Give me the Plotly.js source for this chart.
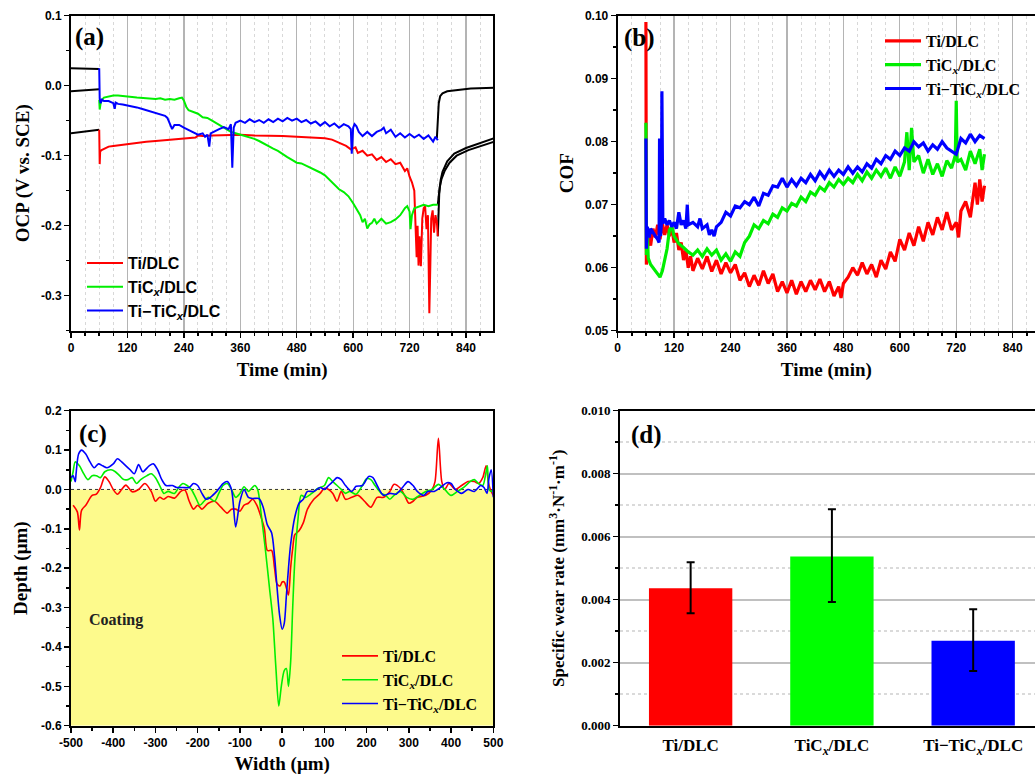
<!DOCTYPE html>
<html>
<head>
<meta charset="utf-8">
<script src="https://cdn.plot.ly/plotly-3.0.1.min.js"></script>
<style>html,body{margin:0;padding:0;background:#fff;}#chart{width:1035px;height:776px;}</style>
</head>
<body>
<div id="chart"></div>
<script>
// ---------------- DATA ----------------
const seriesNames = ["Ti/DLC", "TiC<sub><i>x</i></sub>/DLC", "Ti\u2212TiC<sub><i>x</i></sub>/DLC"];

// (a) OCP vs time
const ocpTiT = [60,61,62,65,70,80,90,100,120,140,160,180,200,220,240,260,265,270,280,300,330,360,390,420,450,480,510,540,555,565,575,585,595,605,610,620,630,640,650,660,670,680,690,700,710,715,720,725,730,732,735,737,739,741,744,747,750,753,756,759,762,764,766,769,772,775,778,780];
const ocpTiV = [-0.063,-0.112,-0.094,-0.092,-0.090,-0.087,-0.086,-0.085,-0.083,-0.082,-0.080,-0.079,-0.078,-0.077,-0.076,-0.075,-0.074,-0.071,-0.072,-0.071,-0.070,-0.070,-0.071,-0.071,-0.072,-0.073,-0.074,-0.075,-0.077,-0.080,-0.084,-0.086,-0.091,-0.088,-0.096,-0.093,-0.100,-0.098,-0.106,-0.102,-0.109,-0.105,-0.112,-0.110,-0.122,-0.118,-0.130,-0.138,-0.150,-0.180,-0.245,-0.200,-0.257,-0.215,-0.258,-0.190,-0.175,-0.172,-0.205,-0.185,-0.325,-0.260,-0.190,-0.178,-0.210,-0.185,-0.195,-0.215];

const ocpTiCT = [60,61,63,66,70,80,90,100,110,120,140,160,180,190,200,210,220,230,236,240,245,250,260,270,280,290,300,310,320,330,340,350,360,370,380,390,400,410,420,430,440,450,460,470,480,490,500,510,520,530,540,550,560,570,580,590,600,605,610,615,620,625,630,635,640,645,650,660,670,680,690,700,705,710,715,720,722,725,730,740,750,760,770,780];
const ocpTiCV = [-0.020,-0.034,-0.025,-0.020,-0.017,-0.015,-0.014,-0.014,-0.015,-0.016,-0.017,-0.018,-0.019,-0.018,-0.020,-0.019,-0.020,-0.018,-0.017,-0.021,-0.030,-0.035,-0.037,-0.040,-0.045,-0.046,-0.050,-0.054,-0.058,-0.062,-0.066,-0.068,-0.070,-0.071,-0.074,-0.076,-0.079,-0.083,-0.086,-0.090,-0.093,-0.098,-0.102,-0.106,-0.110,-0.111,-0.114,-0.117,-0.120,-0.124,-0.128,-0.135,-0.142,-0.148,-0.152,-0.158,-0.168,-0.174,-0.180,-0.185,-0.195,-0.190,-0.204,-0.198,-0.196,-0.190,-0.197,-0.190,-0.197,-0.195,-0.191,-0.185,-0.180,-0.175,-0.172,-0.180,-0.205,-0.185,-0.175,-0.172,-0.170,-0.172,-0.170,-0.170];

const ocpTiTiCT = [60,61,63,66,70,80,90,93,95,100,110,120,130,140,150,160,170,180,190,200,205,210,215,220,230,240,250,260,270,280,285,290,294,297,305,315,325,335,340,343,346,350,360,370,380,390,400,410,420,430,440,450,460,470,480,490,500,510,520,530,540,550,560,570,580,590,595,597,600,603,607,612,620,630,640,650,660,665,670,680,690,700,710,720,730,740,750,760,770,775,780];
const ocpTiTiCV = [0.025,-0.018,-0.025,-0.020,-0.022,-0.022,-0.025,-0.033,-0.024,-0.026,-0.027,-0.028,-0.030,-0.031,-0.033,-0.035,-0.036,-0.038,-0.040,-0.043,-0.046,-0.055,-0.062,-0.056,-0.056,-0.060,-0.063,-0.066,-0.070,-0.068,-0.073,-0.070,-0.087,-0.068,-0.065,-0.062,-0.059,-0.062,-0.055,-0.117,-0.060,-0.053,-0.050,-0.053,-0.048,-0.052,-0.049,-0.053,-0.048,-0.052,-0.047,-0.051,-0.046,-0.050,-0.047,-0.052,-0.049,-0.054,-0.051,-0.057,-0.052,-0.058,-0.054,-0.060,-0.055,-0.058,-0.062,-0.097,-0.060,-0.055,-0.058,-0.066,-0.072,-0.066,-0.072,-0.066,-0.063,-0.060,-0.068,-0.063,-0.073,-0.068,-0.074,-0.069,-0.074,-0.070,-0.076,-0.071,-0.080,-0.073,-0.078];

// black parts (before / after the sliding)
const preT = [0, 30, 60];
const preTopV = [0.025, 0.025, 0.024];
const preMidV = [-0.008, -0.007, -0.005];
const preLowV = [-0.068, -0.066, -0.063];
const postTopT = [778, 780, 782, 785, 790, 800, 820, 850, 900];
const postTopV = [-0.075, -0.050, -0.025, -0.015, -0.011, -0.008, -0.006, -0.004, -0.003];
const postAT = [780, 781, 783, 786, 790, 800, 815, 840, 870, 900];
const postAV = [-0.215, -0.185, -0.155, -0.135, -0.123, -0.108, -0.097, -0.089, -0.082, -0.075];
const postBT = [780, 781, 784, 788, 795, 805, 820, 845, 875, 900];
const postBV = [-0.170, -0.160, -0.145, -0.133, -0.121, -0.110, -0.100, -0.092, -0.085, -0.080];

// (b) COF vs time
const cofTiT = [60,61,65,70,75,80,85,90,95,100,105,110,115,120,125,130,135,140,145,150,155,160,170,180,190,200,210,220,230,240,250,260,270,280,290,300,310,320,330,340,350,360,370,380,390,400,410,420,430,440,450,460,470,475,480,490,500,510,520,530,540,550,560,570,580,590,600,610,620,630,640,650,660,670,680,690,700,710,720,725,730,740,750,760,765,770,775,780];
const cofTiV = [0.0990,0.0605,0.0650,0.0635,0.0662,0.0648,0.0668,0.0645,0.0670,0.0652,0.0668,0.0650,0.0664,0.0640,0.0655,0.0628,0.0640,0.0612,0.0628,0.0600,0.0618,0.0595,0.0615,0.0598,0.0618,0.0594,0.0612,0.0590,0.0608,0.0592,0.0605,0.0580,0.0592,0.0570,0.0588,0.0572,0.0595,0.0575,0.0590,0.0562,0.0578,0.0560,0.0580,0.0558,0.0578,0.0562,0.0580,0.0565,0.0582,0.0562,0.0578,0.0555,0.0570,0.0552,0.0575,0.0585,0.0600,0.0588,0.0608,0.0590,0.0605,0.0585,0.0612,0.0598,0.0625,0.0610,0.0645,0.0628,0.0655,0.0635,0.0665,0.0642,0.0672,0.0652,0.0680,0.0660,0.0688,0.0660,0.0672,0.0648,0.0690,0.0705,0.0680,0.0735,0.0700,0.0740,0.0705,0.0730];

const cofTiCT = [60,61,63,65,70,75,80,85,90,95,100,105,110,115,120,125,130,140,150,160,170,180,190,200,210,220,230,240,250,260,270,280,290,300,310,320,330,340,350,360,370,380,390,400,410,420,430,440,450,460,470,480,490,500,510,520,530,540,550,560,570,580,590,600,610,615,620,625,630,640,650,660,670,680,690,700,710,718,720,722,730,740,750,760,770,775,780];
const cofTiCV = [0.0830,0.0620,0.0655,0.0615,0.0605,0.0600,0.0595,0.0590,0.0585,0.0595,0.0610,0.0630,0.0660,0.0665,0.0650,0.0645,0.0638,0.0632,0.0625,0.0620,0.0628,0.0618,0.0630,0.0620,0.0628,0.0612,0.0622,0.0610,0.0625,0.0618,0.0640,0.0650,0.0668,0.0662,0.0675,0.0670,0.0685,0.0680,0.0695,0.0690,0.0702,0.0698,0.0712,0.0705,0.0720,0.0715,0.0728,0.0722,0.0735,0.0728,0.0740,0.0732,0.0742,0.0735,0.0748,0.0738,0.0752,0.0742,0.0755,0.0745,0.0758,0.0742,0.0760,0.0745,0.0768,0.0815,0.0755,0.0822,0.0768,0.0778,0.0750,0.0772,0.0748,0.0765,0.0745,0.0770,0.0758,0.0778,0.0865,0.0768,0.0772,0.0755,0.0785,0.0765,0.0788,0.0755,0.0780];

const cofTiTiCT = [60,61,63,67,70,75,80,85,88,89,91,93,94,96,100,105,110,115,120,125,130,135,140,145,148,150,160,170,175,180,190,195,200,205,210,220,230,240,250,260,270,280,290,300,310,320,330,340,350,360,370,380,390,400,410,420,430,440,450,460,470,480,490,500,510,520,530,540,550,560,570,580,590,600,610,620,630,640,650,660,670,680,690,700,710,720,730,740,750,760,770,780];
const cofTiTiCV = [0.0805,0.0630,0.0665,0.0648,0.0662,0.0655,0.0650,0.0645,0.0640,0.0805,0.0650,0.0670,0.0880,0.0670,0.0678,0.0668,0.0675,0.0665,0.0672,0.0662,0.0688,0.0668,0.0675,0.0662,0.0700,0.0668,0.0672,0.0665,0.0678,0.0662,0.0668,0.0652,0.0660,0.0650,0.0665,0.0672,0.0688,0.0682,0.0698,0.0695,0.0705,0.0700,0.0712,0.0698,0.0718,0.0715,0.0730,0.0728,0.0742,0.0728,0.0740,0.0730,0.0742,0.0735,0.0748,0.0738,0.0752,0.0742,0.0755,0.0745,0.0755,0.0748,0.0760,0.0750,0.0760,0.0752,0.0765,0.0758,0.0772,0.0765,0.0778,0.0772,0.0785,0.0778,0.0790,0.0785,0.0800,0.0792,0.0798,0.0785,0.0795,0.0788,0.0800,0.0790,0.0785,0.0780,0.0805,0.0798,0.0812,0.0800,0.0810,0.0805];

// (c) wear track profile
const profTiW = [-495,-485,-480,-475,-465,-450,-440,-430,-420,-410,-400,-390,-380,-370,-355,-340,-325,-310,-300,-290,-280,-270,-255,-240,-230,-220,-210,-200,-190,-175,-160,-145,-130,-120,-110,-100,-90,-80,-70,-60,-50,-42,-35,-25,-18,-12,-5,0,5,10,15,20,25,30,40,50,60,75,90,100,110,120,130,140,150,165,180,195,210,225,240,255,265,280,290,300,310,320,340,355,362,370,378,385,395,410,425,440,455,465,475,483,488,493,500];
const profTiD = [-0.040,-0.057,-0.103,-0.053,-0.040,-0.015,-0.012,0.005,0.032,0.020,0.000,-0.012,0.000,0.011,-0.006,0.000,0.015,-0.005,-0.030,-0.020,-0.025,-0.018,-0.022,-0.005,-0.002,-0.030,-0.050,-0.040,-0.050,-0.035,-0.030,-0.045,-0.060,-0.050,-0.050,-0.055,-0.040,-0.035,-0.025,-0.040,-0.070,-0.100,-0.155,-0.155,-0.200,-0.240,-0.245,-0.235,-0.235,-0.250,-0.268,-0.200,-0.150,-0.115,-0.105,-0.085,-0.050,-0.025,-0.010,0.003,0.000,-0.010,-0.030,-0.005,-0.025,-0.020,-0.015,-0.030,-0.045,-0.020,-0.020,-0.005,0.013,0.003,-0.015,-0.035,-0.030,-0.020,-0.015,0.000,0.020,0.130,0.020,0.000,0.015,0.000,0.010,0.020,0.020,0.015,0.030,0.060,0.020,0.000,-0.015];

const profTiCW = [-500,-495,-490,-480,-470,-460,-450,-440,-430,-420,-405,-395,-385,-375,-365,-355,-345,-335,-320,-310,-300,-290,-280,-270,-255,-245,-235,-225,-215,-205,-195,-185,-175,-160,-150,-140,-130,-120,-110,-100,-90,-80,-65,-58,-50,-40,-30,-22,-15,-8,-2,5,10,15,20,25,30,38,45,55,70,85,100,110,120,130,140,150,160,175,190,200,210,220,235,245,255,265,280,295,310,325,340,355,370,385,400,415,430,445,455,465,475,482,486,490,495,500];
const profTiCD = [0.020,0.045,0.070,0.060,0.040,0.025,0.035,0.035,0.030,0.045,0.050,0.045,0.035,0.025,0.025,0.030,0.015,0.025,0.035,0.040,0.030,0.010,-0.010,-0.005,-0.010,0.005,0.015,0.010,0.000,-0.020,-0.040,-0.030,-0.020,-0.030,-0.010,0.010,0.015,0.000,-0.020,-0.010,0.007,-0.005,0.010,0.000,-0.060,-0.150,-0.250,-0.330,-0.450,-0.550,-0.500,-0.460,-0.455,-0.500,-0.440,-0.300,-0.180,-0.070,-0.015,-0.020,-0.010,0.003,0.010,0.030,0.020,0.010,0.000,-0.010,-0.005,-0.012,0.010,0.027,0.025,0.010,-0.010,-0.015,-0.025,-0.015,-0.005,-0.020,-0.025,-0.015,-0.005,0.000,0.013,0.000,-0.015,-0.005,0.005,0.020,0.025,0.015,0.010,0.040,0.060,0.000,-0.005,0.000];

const profTiTiCW = [-500,-495,-490,-488,-482,-475,-465,-455,-445,-435,-425,-415,-400,-390,-380,-370,-360,-350,-340,-330,-315,-305,-295,-285,-275,-260,-250,-235,-220,-210,-200,-190,-180,-170,-155,-140,-130,-120,-110,-100,-90,-80,-70,-55,-45,-35,-25,-18,-12,-6,0,5,10,15,20,30,40,50,60,75,90,100,110,120,130,140,150,165,175,190,205,215,225,240,255,270,285,298,310,320,335,345,360,375,390,400,410,425,440,455,470,478,485,490,495,500];
const profTiTiCD = [0.030,0.035,0.020,0.040,0.090,0.100,0.090,0.070,0.055,0.065,0.060,0.055,0.065,0.078,0.070,0.060,0.050,0.040,0.063,0.045,0.060,0.065,0.050,0.025,0.010,0.010,0.005,0.005,0.005,0.015,0.010,-0.010,-0.025,-0.020,-0.005,0.015,0.020,0.000,-0.095,-0.030,0.000,-0.020,-0.023,-0.023,-0.045,-0.090,-0.110,-0.170,-0.250,-0.320,-0.355,-0.340,-0.270,-0.200,-0.140,-0.070,-0.035,-0.025,-0.005,-0.005,0.005,0.000,0.010,0.020,0.030,0.025,0.010,-0.005,0.008,0.010,0.033,0.030,0.010,-0.015,-0.010,-0.012,0.005,0.020,0.010,-0.005,-0.015,-0.005,-0.005,0.005,0.017,0.015,0.000,-0.010,0.000,-0.005,0.010,0.005,-0.010,0.030,0.050,-0.020];

// (d) specific wear rate
const wearCats = ["Ti/DLC", "TiC<sub><i>x</i></sub>/DLC", "Ti\u2212TiC<sub><i>x</i></sub>/DLC"];
const wearVals = [0.00436, 0.00537, 0.00270];
const wearErrPlus = [0.00083, 0.00150, 0.00100];
const wearErrMinus = [0.00079, 0.00144, 0.00096];

// tick labels
const ocpTicks = [-0.3, -0.2, -0.1, 0.0, 0.1];
const ocpTickText = ["-0.3", "-0.2", "-0.1", "0.0", "0.1"];
const cofTicks = [0.05, 0.06, 0.07, 0.08, 0.09, 0.10];
const cofTickText = ["0.05", "0.06", "0.07", "0.08", "0.09", "0.10"];
const timeTicks = [0, 120, 240, 360, 480, 600, 720, 840];
const depthTicks = [-0.6, -0.5, -0.4, -0.3, -0.2, -0.1, 0.0, 0.1, 0.2];
const depthTickText = ["-0.6", "-0.5", "-0.4", "-0.3", "-0.2", "-0.1", "0.0", "0.1", "0.2"];
const widthTicks = [-500, -400, -300, -200, -100, 0, 100, 200, 300, 400, 500];
const widthTickText = ["-500", "-400", "-300", "-200", "-100", "0", "100", "200", "300", "400", "500"];
const wearTicks = [0, 0.002, 0.004, 0.006, 0.008, 0.010];
const wearTickText = ["0.000", "0.002", "0.004", "0.006", "0.008", "0.010"];

// ---------------- STYLE ----------------
const W = 1035, H = 776;
const colors = ["#ff0000", "#00ee00", "#0000ff"];
const SERIF = "Liberation Serif, Times New Roman, serif";
const SANS = "Liberation Sans, Arial, sans-serif";
const px = v => v / W;
const py = v => 1 - v / H;

const tickFontSans = {family: SANS, size: 12, color: "#000", weight: "bold"};
const tickFontSerif = {family: SERIF, size: 13, color: "#000", weight: "bold"};
const titleFont = {family: SERIF, size: 19, color: "#000", weight: "bold"};

function axisBase(extra) {
  return Object.assign({
    showline: true, linecolor: "#000", linewidth: 2, mirror: true,
    ticks: "outside", ticklen: 5, tickwidth: 1.5, tickcolor: "#000",
    zeroline: false, showgrid: false, tickfont: tickFontSans, automargin: false
  }, extra);
}

const timeGrid = {showgrid: true, gridcolor: "#b4b4b4", gridwidth: 1.3,
  minor: {tickmode: "linear", tick0: 0, dtick: 30, ticks: "outside", ticklen: 3, tickcolor: "#000", showgrid: true, gridcolor: "#d8d8d8", griddash: "dot", gridwidth: 1}};

const traces = [];
function line(x, y, xa, ya, color, name, legend, width) {
  traces.push({type: "scatter", mode: "lines", x: x, y: y, xaxis: xa, yaxis: ya,
    line: {color: color, width: width || 2}, name: name || "", showlegend: !!name, legend: legend || "legend",
    hoverinfo: "skip"});
}
// (a)
line(preT, preTopV, "x", "y", "#000");
line(preT, preMidV, "x", "y", "#000");
line(preT, preLowV, "x", "y", "#000");
line(postTopT, postTopV, "x", "y", "#000");
line(postAT, postAV, "x", "y", "#000");
line(postBT, postBV, "x", "y", "#000");
line(ocpTiT, ocpTiV, "x", "y", colors[0], seriesNames[0], "legend");
line(ocpTiCT, ocpTiCV, "x", "y", colors[1], seriesNames[1], "legend");
line(ocpTiTiCT, ocpTiTiCV, "x", "y", colors[2], seriesNames[2], "legend");
// (b)
line(cofTiT, cofTiV, "x2", "y2", colors[0], seriesNames[0], "legend2", 3.2);
line(cofTiCT, cofTiCV, "x2", "y2", colors[1], seriesNames[1], "legend2", 3.2);
line(cofTiTiCT, cofTiTiCV, "x2", "y2", colors[2], seriesNames[2], "legend2", 3.2);
// (c)
const profSm = 0.8;
traces.push({type: "scatter", mode: "lines", x: profTiW, y: profTiD, xaxis: "x3", yaxis: "y3", line: {color: colors[0], width: 1.6, shape: "spline", smoothing: profSm}, name: seriesNames[0], legend: "legend3"});
traces.push({type: "scatter", mode: "lines", x: profTiCW, y: profTiCD, xaxis: "x3", yaxis: "y3", line: {color: colors[1], width: 1.6, shape: "spline", smoothing: profSm}, name: seriesNames[1], legend: "legend3"});
traces.push({type: "scatter", mode: "lines", x: profTiTiCW, y: profTiTiCD, xaxis: "x3", yaxis: "y3", line: {color: colors[2], width: 1.6, shape: "spline", smoothing: profSm}, name: seriesNames[2], legend: "legend3"});
// (d)
traces.push({type: "bar", x: [0, 1, 2], y: wearVals, xaxis: "x4", yaxis: "y4", width: 0.59,
  marker: {color: colors.map((c, i) => i === 1 ? "#00ff00" : c), line: {width: 0}}, showlegend: false,
  error_y: {type: "data", symmetric: false, array: wearErrPlus, arrayminus: wearErrMinus, color: "#000", thickness: 2, width: 4}});

const legendCommon = {bgcolor: "rgba(0,0,0,0)", borderwidth: 0, xanchor: "left", yanchor: "top", tracegroupgap: 0, itemwidth: 36};

const layout = {
  width: W, height: H,
  margin: {l: 0, r: 0, t: 0, b: 0},
  paper_bgcolor: "#fff", plot_bgcolor: "#fff",
  showlegend: true,
  // (a)
  xaxis: axisBase(Object.assign({domain: [px(71), px(493.3)], anchor: "y", range: [0, 898],
    tickmode: "array", tickvals: timeTicks, title: {text: "Time (min)", font: titleFont, standoff: 9}}, timeGrid)),
  yaxis: axisBase({domain: [py(330.7), py(15.7)], anchor: "x", range: [-0.35, 0.1],
    tickmode: "array", tickvals: ocpTicks, ticktext: ocpTickText,
    minor: {tickmode: "linear", tick0: 0, dtick: 0.05, ticks: "outside", ticklen: 3, tickcolor: "#000"},
    title: {text: "OCP (V vs. SCE)", font: titleFont, standoff: 6}}),
  // (b)
  xaxis2: axisBase(Object.assign({domain: [px(617.7), 1], anchor: "y2", range: [0, 887.5],
    tickmode: "array", tickvals: timeTicks, title: {text: "Time (min)", font: titleFont, standoff: 9}}, timeGrid)),
  yaxis2: axisBase({domain: [py(330.7), py(15.7)], anchor: "x2", range: [0.05, 0.10], mirror: false,
    tickmode: "array", tickvals: cofTicks, ticktext: cofTickText,
    minor: {tickmode: "linear", tick0: 0.05, dtick: 0.005, ticks: "outside", ticklen: 3, tickcolor: "#000"},
    title: {text: "COF", font: titleFont, standoff: 6}}),
  // (c)
  xaxis3: axisBase({domain: [px(71), px(493.3)], anchor: "y3", range: [-500, 500],
    tickmode: "array", tickvals: widthTicks, ticktext: widthTickText,
    minor: {tickmode: "linear", tick0: 0, dtick: 50, ticks: "outside", ticklen: 3, tickcolor: "#000"},
    title: {text: "Width (\u03bcm)", font: titleFont, standoff: 8}}),
  yaxis3: axisBase({domain: [py(725.7), py(410.7)], anchor: "x3", range: [-0.6, 0.2],
    tickmode: "array", tickvals: depthTicks, ticktext: depthTickText,
    minor: {tickmode: "linear", tick0: 0, dtick: 0.05, ticks: "outside", ticklen: 3, tickcolor: "#000"},
    title: {text: "Depth (\u03bcm)", font: titleFont, standoff: 8}}),
  // (d)
  xaxis4: axisBase({domain: [px(620), 1], anchor: "y4", range: [-0.5, 2.4376],
    tickmode: "array", tickvals: [0, 1, 2], ticktext: wearCats, ticks: "",
    tickfont: {family: SERIF, size: 17, color: "#000", weight: "bold"}, ticklabelstandoff: 3}),
  yaxis4: axisBase({domain: [py(725.7), py(410.7)], anchor: "x4", range: [0, 0.010], mirror: false,
    tickmode: "array", tickvals: wearTicks, ticktext: wearTickText, tickfont: tickFontSerif,
    showgrid: true, gridcolor: "#c0c0c0", gridwidth: 2,
    minor: {tickmode: "linear", tick0: 0, dtick: 0.001, ticks: "outside", ticklen: 3, tickcolor: "#000", showgrid: true, gridcolor: "#dadada", griddash: "dot"},
    title: {text: "Specific wear rate (mm<sup>3</sup>\u00b7N<sup>-1</sup>\u00b7m<sup>-1</sup>)", font: {family: SERIF, size: 17, color: "#000", weight: "bold"}, standoff: 12}}),
  legend: Object.assign({x: px(82), y: py(246), font: {family: SANS, size: 16, color: "#000", weight: "bold"}}, legendCommon),
  legend2: Object.assign({x: px(880), y: py(24), font: {family: SERIF, size: 16, color: "#000", weight: "bold"}}, legendCommon),
  legend3: Object.assign({x: px(337), y: py(639), font: {family: SERIF, size: 16, color: "#000", weight: "bold"}}, legendCommon),
  shapes: [
    {type: "rect", xref: "x3", yref: "y3", x0: -500, x1: 500, y0: -0.6, y1: 0, fillcolor: "#fdfa8c", line: {width: 0}, layer: "below"},
    {type: "line", xref: "x3", yref: "y3", x0: -500, x1: 500, y0: 0, y1: 0, line: {color: "#333", width: 1, dash: "dot"}, layer: "below"}
  ],
  annotations: [
    {text: "(a)", xref: "paper", yref: "paper", x: px(73), y: py(37), xanchor: "left", yanchor: "middle", showarrow: false, font: {family: SERIF, size: 25, color: "#000", weight: "bold"}},
    {text: "(b)", xref: "paper", yref: "paper", x: px(622), y: py(38), xanchor: "left", yanchor: "middle", showarrow: false, font: {family: SERIF, size: 25, color: "#000", weight: "bold"}},
    {text: "(c)", xref: "paper", yref: "paper", x: px(77), y: py(434), xanchor: "left", yanchor: "middle", showarrow: false, font: {family: SERIF, size: 25, color: "#000", weight: "bold"}},
    {text: "(d)", xref: "paper", yref: "paper", x: px(629), y: py(435), xanchor: "left", yanchor: "middle", showarrow: false, font: {family: SERIF, size: 25, color: "#000", weight: "bold"}},
    {text: "Coating", xref: "x3", yref: "y3", x: -393, y: -0.332, showarrow: false, font: {family: SERIF, size: 16, color: "#222", weight: "bold"}}
  ]
};

Plotly.newPlot("chart", traces, layout, {staticPlot: true, displayModeBar: false});
</script>
</body>
</html>
